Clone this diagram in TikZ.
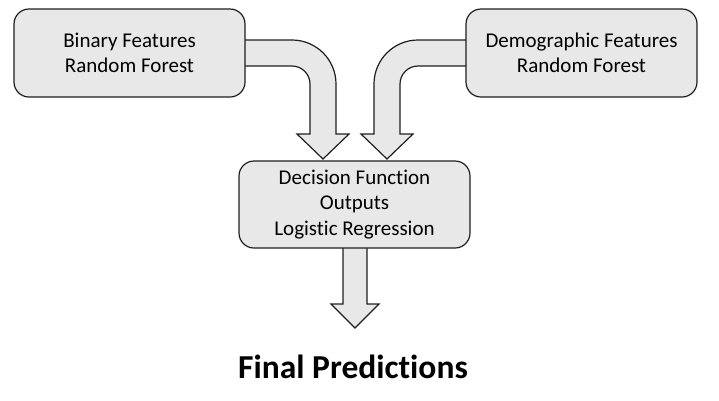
\documentclass[tikz,border=0pt]{standalone}
\usepackage{fontspec}
\setmainfont[Ligatures=NoCommon]{Carlito}
\definecolor{boxfill}{RGB}{232,232,232}
\definecolor{edge}{RGB}{30,30,30}
\begin{document}
\begin{tikzpicture}[x=1pt,y=-1pt,
  box/.style={draw=edge,fill=boxfill,line width=1.2pt,rounded corners=15pt,
    minimum width=231pt,minimum height=88pt,inner sep=0pt,align=center,
    font=\fontsize{21}{25.5}\selectfont},
  blockarrow/.style={draw=edge,fill=boxfill,line width=1.2pt,line join=miter}]
\useasboundingbox (0,0) rectangle (719,400);
% left curved arrow
\draw[blockarrow] (240,40) -- (292,40)
  .. controls (316.3,40) and (336,59.7) .. (336,84)
  -- (336,134) -- (349,134) -- (323,159) -- (297,134) -- (310,134) -- (310,84)
  .. controls (310,74.1) and (301.9,66) .. (292,66) -- (240,66) -- cycle;
% right curved arrow
\draw[blockarrow] (471,40) -- (418,40)
  .. controls (393.7,40) and (374,59.7) .. (374,84)
  -- (374,134) -- (361,134) -- (387,159) -- (413,134) -- (400,134) -- (400,84)
  .. controls (400,74.1) and (408.1,66) .. (418,66) -- (471,66) -- cycle;
% bottom arrow
\draw[blockarrow] (343,243) -- (343,304) -- (331,304) -- (355,328) -- (379,304) -- (367,304) -- (367,243) -- cycle;
\node[box] (bin) at (129.5,53) {Binary Features\\Random Forest};
\node[box] (demo) at (581.5,53) {Demographic Features\\Random Forest};
\node[box,minimum height=87pt] (dec) at (354.5,204.5) {Decision Function\\Outputs\\Logistic Regression};
\node[font=\fontsize{33.5}{40}\selectfont\bfseries,inner sep=0pt,anchor=base] (final) at (353,378.5) {Final Predictions};
\end{tikzpicture}
\end{document}
